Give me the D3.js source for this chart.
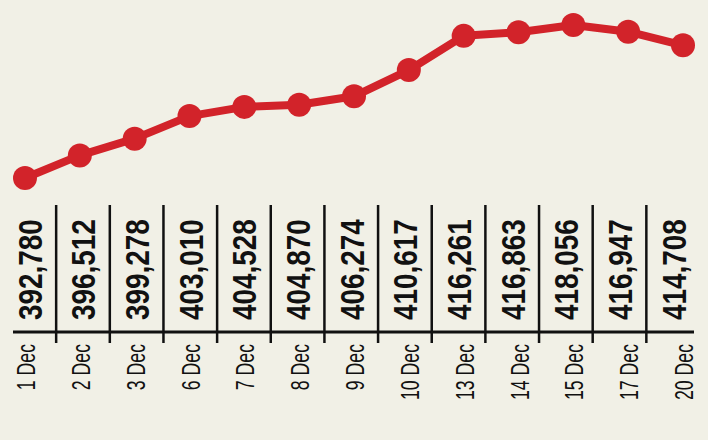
<!DOCTYPE html>
<html>
<head>
<meta charset="utf-8">
<script src="https://cdn.jsdelivr.net/npm/d3@7"></script>
<style>
  body { margin: 0; background: #f1f0e6; }
  svg { display: block; }
</style>
</head>
<body>
<div id="chart"></div>
<script>
// data
const dates = ["1 Dec","2 Dec","3 Dec","6 Dec","7 Dec","8 Dec","9 Dec","10 Dec","13 Dec","14 Dec","15 Dec","17 Dec","20 Dec"];
const values = [392780,396512,399278,403010,404528,404870,406274,410617,416261,416863,418056,416947,414708];

const W = 708, H = 440;
const red = "#d2232a";
// no condensed font installed, so squeeze Liberation Sans along the text direction
const font = "'Liberation Sans', Arial, sans-serif";

const svg = d3.select("#chart").append("svg")
  .attr("width", W).attr("height", H)
  .style("background", "#f1f0e6");

// point scale for the line, band scale for the table columns
const x = d3.scalePoint().domain(dates).range([25, 683]);
const band = d3.scaleBand().domain(dates).range([2.5, 700]);
const y = d3.scaleLinear()
  .domain([d3.min(values), d3.max(values)])
  .range([178, 25]);

const pts = dates.map((d, i) => ({ date: d, value: values[i] }));

// line
svg.append("path")
  .datum(pts)
  .attr("fill", "none")
  .attr("stroke", red)
  .attr("stroke-width", 8)
  .attr("stroke-linejoin", "round")
  .attr("d", d3.line().x(d => x(d.date)).y(d => y(d.value)));

svg.selectAll("circle.dot")
  .data(pts).enter()
  .append("circle")
  .attr("class", "dot")
  .attr("cx", d => x(d.date))
  .attr("cy", d => y(d.value))
  .attr("r", 12)
  .attr("fill", red);

// table part
const axisY = 332;
svg.append("line")
  .attr("x1", 13).attr("x2", 694)
  .attr("y1", axisY).attr("y2", axisY)
  .attr("stroke", "#111").attr("stroke-width", 3);

svg.selectAll("line.sep")
  .data(dates.slice(1)).enter()
  .append("line")
  .attr("class", "sep")
  .attr("x1", d => band(d)).attr("x2", d => band(d))
  .attr("y1", 205).attr("y2", 343)
  .attr("stroke", "#111").attr("stroke-width", 2.5);

const fmt = d3.format(",");

svg.selectAll("text.val")
  .data(pts).enter()
  .append("text")
  .attr("class", "val")
  .attr("transform", d => `translate(${band(d.date) + band.bandwidth() / 2 + 12.5},320) rotate(-90) scale(0.82,1)`)
  .attr("text-anchor", "start")
  .style("font-family", font)
  .style("font-weight", "bold")
  .style("font-size", "34px")
  .attr("fill", "#111")
  .text(d => fmt(d.value));

svg.selectAll("text.date")
  .data(dates).enter()
  .append("text")
  .attr("class", "date")
  .attr("transform", d => `translate(${x(d) + 10},344) rotate(-90) scale(0.68,1)`)
  .attr("text-anchor", "end")
  .style("font-family", font)
  .style("font-size", "26px")
  .attr("fill", "#111")
  .text(d => d);
</script>
</body>
</html>
